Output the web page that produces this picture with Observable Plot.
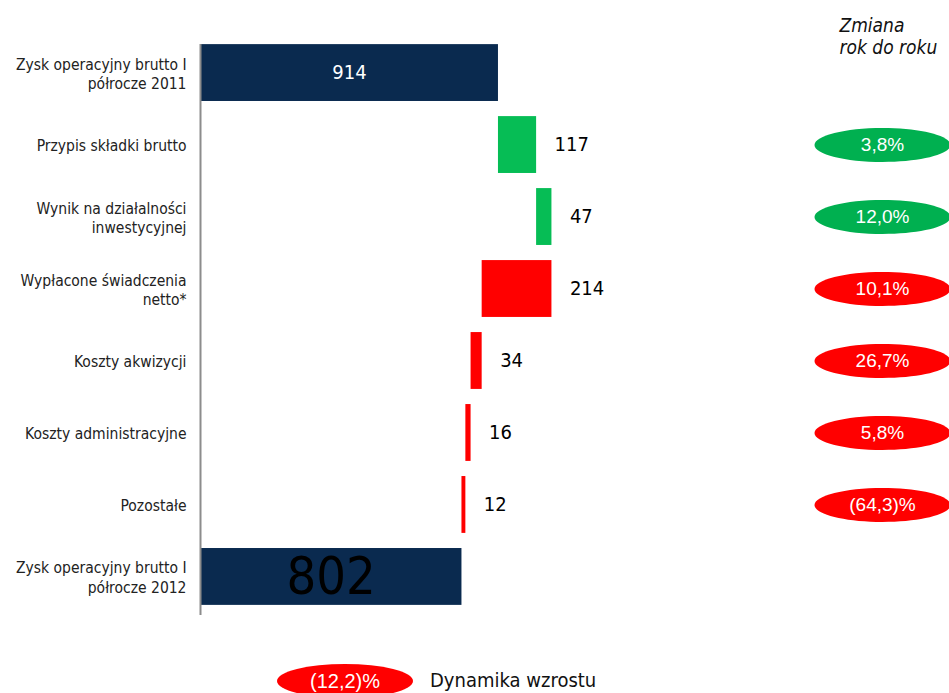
<!DOCTYPE html>
<html>
<head>
<meta charset="utf-8">
<script src="https://cdn.jsdelivr.net/npm/d3@7"></script>
<script src="https://cdn.jsdelivr.net/npm/@observablehq/plot@0.6"></script>
<style>
  html, body { margin: 0; padding: 0; background: #fff; overflow: hidden; }
  #legend { position: relative; height: 33px; width: 949px; font-family: "DejaVu Sans Condensed", "DejaVu Sans", sans-serif; }
  #legend .pill { position: absolute; left: 277px; top: 4px; width: 136px; height: 34px; border-radius: 50%; background: #ff0000; color: #fff;
    font-family: Arial, "Liberation Sans", sans-serif; font-size: 20px; line-height: 34px; text-align: center; }
  #legend .lbl { position: absolute; left: 430px; top: 8px; font-size: 20px; color: #111; line-height: 24px; }
</style>
</head>
<body>
<div id="chart"></div>
<div id="legend"></div>
<script>
// ---- data ----
const categories = [
  "Zysk operacyjny brutto I\npółrocze 2011",
  "Przypis składki brutto",
  "Wynik na działalności\ninwestycyjnej",
  "Wypłacone świadczenia\nnetto*",
  "Koszty akwizycji",
  "Koszty administracyjne",
  "Pozostałe",
  "Zysk operacyjny brutto I\npółrocze 2012"
];
const values = [914, 117, 47, -214, -34, -16, -12, 802];
const kinds = ["total", "up", "up", "down", "down", "down", "down", "total"];
const changeLabels = [null, "3,8%", "12,0%", "10,1%", "26,7%", "5,8%", "(64,3)%", null];
const changeKinds = [null, "up", "up", "down", "down", "down", "down", null];
const headerText = "Zmiana\nrok do roku";
const legendValue = "(12,2)%";
const legendText = "Dynamika wzrostu";

// ---- build waterfall table ----
let running = 0;
const rows = categories.map((c, i) => {
  let x1, x2;
  if (kinds[i] === "total") { x1 = 0; x2 = values[i]; running = values[i]; }
  else { x1 = running; x2 = running + values[i]; running = x2; }
  return { category: c, x1, x2, value: Math.abs(values[i]), kind: kinds[i], change: changeLabels[i], changeKind: changeKinds[i], index: i };
});
const steps = rows.filter(d => d.kind !== "total");
const changes = rows.filter(d => d.change);

const colorMap = { total: "#0a2a4f", up: "#06bd55", down: "#ff0000" };
const pillMap = { up: "#00b050", down: "#ff0000" };

// ellipse symbol (rx:ry = 4:1)
const ellipseSymbol = {
  draw(context, size) {
    const ry = Math.sqrt(size / (Math.PI * 4));
    const rx = 4 * ry;
    const k = 0.5523;
    context.moveTo(rx, 0);
    context.bezierCurveTo(rx, k * ry, k * rx, ry, 0, ry);
    context.bezierCurveTo(-k * rx, ry, -rx, k * ry, -rx, 0);
    context.bezierCurveTo(-rx, -k * ry, -k * rx, -ry, 0, -ry);
    context.bezierCurveTo(k * rx, -ry, rx, -k * ry, rx, 0);
    context.closePath();
  }
};

const font = "'DejaVu Sans Condensed', 'DejaVu Sans', sans-serif";
const pillFont = "Arial, 'Liberation Sans', sans-serif";

const chart = Plot.plot({
  width: 949,
  height: 660,
  marginLeft: 200,
  marginRight: 260,
  marginTop: 29,
  marginBottom: 40,
  style: { fontFamily: font, background: "#fff", overflow: "visible" },
  x: { domain: [0, 1500], axis: null },
  y: { domain: categories, padding: 0.21, round: false, axis: null },
  marks: [
    // category labels
    Plot.text(rows, { y: "category", frameAnchor: "left", dx: -14, textAnchor: "end", text: "category", fontSize: 15.5, lineHeight: 1.25, fill: "#222" }),
    Plot.barX(rows, { y: "category", x1: "x1", x2: "x2", fill: d => colorMap[d.kind] }),
    Plot.ruleX([0], { stroke: "#8c8c8c", strokeWidth: 2, insetTop: 15, insetBottom: 5 }),
    // total labels
    Plot.text(rows.filter(d => d.index === 0), { y: "category", x: d => (d.x1 + d.x2) / 2, text: d => String(d.value), fill: "#fff", fontSize: 20 }),
    Plot.text(rows.filter(d => d.index === categories.length - 1), { y: "category", x: d => (d.x1 + d.x2) / 2, text: d => String(d.value), fill: "#000", fontSize: 52 }),
    // step labels
    Plot.text(steps, { y: "category", x: d => Math.max(d.x1, d.x2), text: d => String(d.value), textAnchor: "start", dx: 18, fill: "#000", fontSize: 20 }),
    // change pills
    Plot.dot(changes, { y: "category", frameAnchor: "right", dx: 193, symbol: ellipseSymbol, r: 34, fill: d => pillMap[d.changeKind], stroke: "none" }),
    Plot.text(changes, { y: "category", frameAnchor: "right", dx: 193, textAnchor: "middle", text: "change", fill: "#fff", fontSize: 19, fontFamily: pillFont }),
    // header
    Plot.text([headerText], { frameAnchor: "top-right", dx: 150, dy: -14, textAnchor: "start", lineAnchor: "top", fontSize: 19, fontStyle: "italic", lineHeight: 1.2, fill: "#111", text: d => d })
  ]
});
document.getElementById("chart").appendChild(chart);

const legend = document.getElementById("legend");
legend.innerHTML = `<div class="pill">${legendValue}</div><div class="lbl">${legendText}</div>`;
</script>
</body>
</html>
